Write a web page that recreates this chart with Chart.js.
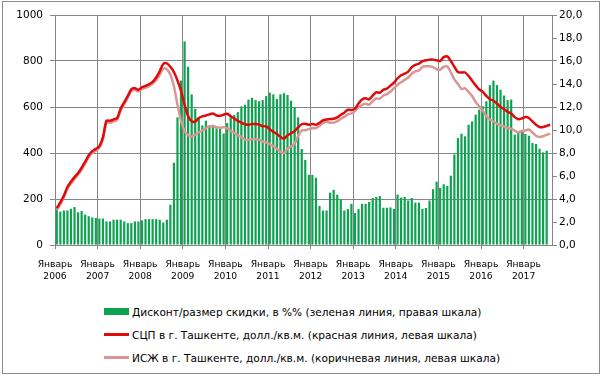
<!DOCTYPE html>
<html>
<head>
<meta charset="utf-8">
<script src="https://cdn.jsdelivr.net/npm/chart.js@4.4.1/dist/chart.umd.min.js"></script>
<style>
  body { margin: 0; background: #fff; }
  #wrap { position: relative; width: 604px; height: 378px; font-family: 'DejaVu Sans', sans-serif; }
  #frame { position: absolute; left: 2px; top: 1px; width: 596px; height: 371px; border: 1px solid #8c8c8c; }
  #chart { position: absolute; left: 0; top: 0; }
  #legend { position: absolute; left: 104px; top: 300px; font-size: 10.6px; color: #000; }
  .item { display: flex; align-items: center; height: 23px; white-space: nowrap; }
  .swatch { width: 25px; margin-right: 3px; }
</style>
</head>
<body>
<div id="wrap">
  <div id="frame"></div>
  <canvas id="chart" width="604" height="290"></canvas>
  <div id="legend"></div>
</div>
<script>
// months Jan 2006 .. Aug 2017
const years = ['2006', '2007', '2008', '2009', '2010', '2011', '2012', '2013', '2014', '2015', '2016', '2017'];
const months = ['01', '02', '03', '04', '05', '06', '07', '08', '09', '10', '11', '12'];
const lastMonth = '2017-08';
const januaryLabel = 'Январь';

const seriesNames = [
  'Дисконт/размер скидки, в %% (зеленая линия, правая шкала)',
  'СЦП в г. Ташкенте, долл./кв.м. (красная линия, левая шкала)',
  'ИСЖ в г. Ташкенте, долл./кв.м. (коричневая линия, левая шкала)'
];

// discount, % (right axis)
const discount = [
  3.3, 2.9, 3.0, 3.0, 3.15, 3.3, 2.85, 2.95, 2.65, 2.5, 2.4, 2.35,
  2.3, 2.3, 2.05, 2.05, 2.2, 2.2, 2.2, 2.05, 1.9, 1.9, 2.05, 2.05,
  2.15, 2.25, 2.25, 2.25, 2.25, 2.2, 1.95, 2.2, 3.5, 7.15, 11.1, 14.3,
  17.7, 15.5, 13.1, 11.85, 11.0, 10.4, 10.8, 10.4, 10.45, 10.15, 10.1, 9.7,
  10.6, 11.1, 11.3, 11.55, 12.05, 12.2, 12.65, 12.8, 12.6, 12.5, 12.6, 12.95,
  13.25, 13.1, 12.7, 13.1, 13.2, 13.05, 12.55, 12.0, 11.1, 8.35, 7.4, 6.1,
  6.1, 5.85, 3.4, 3.0, 3.0, 4.55, 4.8, 4.37, 3.95, 3.0, 3.12, 3.58,
  2.78, 3.12, 3.58, 3.58, 3.74, 4.08, 4.18, 4.25, 3.24, 3.24, 3.27, 3.14,
  4.38, 4.12, 4.18, 3.87, 4.08, 3.68, 3.68, 3.14, 3.22, 3.87, 4.85, 5.51,
  4.98, 5.28, 5.13, 6.03, 7.87, 9.3, 9.68, 9.45, 10.45, 10.75, 11.34, 11.77,
  12.06, 12.5, 13.9, 14.3, 13.9, 13.5, 13.0, 12.6, 12.65, 9.6, 9.74, 9.88,
  9.65, 9.5, 8.87, 8.78, 8.37, 8.05, 8.2, null
];

// СЦП, $/m2 (left axis)
const scp = [
  160, 185, 215, 252, 275, 295, 313, 336, 362, 390, 408, 418,
  430, 468, 540, 540, 546, 552, 593, 620, 648, 677, 682, 675,
  686, 692, 699, 709, 728, 755, 787, 790, 775, 752, 715, 670,
  610, 560, 538, 537, 552, 559, 563, 568, 572, 563, 562, 567,
  571, 560, 550, 540, 532, 525, 523, 526, 526, 523, 516, 516,
  503, 492, 483, 470, 462, 477, 486, 495, 512, 525, 527, 523,
  526, 523, 531, 542, 546, 548, 549, 555, 566, 575, 588, 587,
  593, 615, 633, 638, 633, 650, 664, 662, 675, 680, 693, 706,
  725, 738, 745, 754, 773, 783, 788, 799, 803, 806, 806, 803,
  800, 817, 820, 800, 775, 752, 750, 750, 735, 714, 694, 676,
  666, 648, 634, 628, 615, 601, 590, 579, 572, 556, 547, 550,
  556, 552, 537, 523, 513, 513, 518, 523
];

// ИСЖ, $/m2 (left axis)
const isj = [
  152, 177, 207, 244, 267, 287, 305, 328, 354, 382, 400, 410,
  422, 460, 532, 532, 538, 544, 585, 612, 640, 669, 674, 667,
  678, 684, 691, 701, 716, 740, 766, 764, 740, 690, 610, 540,
  495, 477, 472, 479, 489, 498, 508, 516, 516, 512, 510, 512,
  507, 497, 487, 477, 470, 458, 456, 460, 460, 458, 450, 446,
  438, 430, 418, 406, 400, 418, 428, 440, 475, 498, 499, 504,
  508, 508, 518, 531, 536, 532, 532, 538, 549, 557, 568, 572,
  582, 598, 609, 614, 610, 626, 637, 636, 650, 656, 666, 682,
  697, 708, 718, 728, 745, 755, 759, 774, 777, 777, 773, 764,
  762, 775, 776, 750, 720, 700, 679, 681, 666, 648, 622, 603,
  584, 560, 546, 537, 527, 520, 514, 509, 506, 497, 490, 496,
  498, 502, 489, 475, 470, 473, 479, 484
];

const categories = years.flatMap(y => months.map(m => y + '-' + m)).filter(c => c <= lastMonth);

const green = '#0ca24f';
const red = '#e00a0a';
const pink = '#d99694';
const gridColor = '#868686';
const axisFont = { family: 'DejaVu Sans', size: 10.5 };

Chart.defaults.color = '#000';

new Chart(document.getElementById('chart'), {
  type: 'bar',
  data: {
    labels: categories,
    datasets: [
      {
        type: 'line', label: seriesNames[1], data: scp, yAxisID: 'y', order: 1,
        borderColor: red, borderWidth: 2.5, pointRadius: 0, tension: 0.3
      },
      {
        type: 'line', label: seriesNames[2], data: isj, yAxisID: 'y', order: 2,
        borderColor: pink, borderWidth: 2.5, pointRadius: 0, tension: 0.3
      },
      {
        type: 'bar', label: seriesNames[0], data: discount, yAxisID: 'y2', order: 3,
        backgroundColor: green, barPercentage: 0.62, categoryPercentage: 1
      }
    ]
  },
  options: {
    responsive: false,
    animation: false,
    layout: { padding: { top: 15, left: 0, right: 0, bottom: 0 } },
    plugins: { legend: { display: false }, tooltip: { enabled: false } },
    scales: {
      x: {
        offset: true,
        grid: {
          offset: true,
          tickLength: 4,
          color: c => (c.index % 12 === 0 ? gridColor : 'rgba(0,0,0,0)')
        },
        border: { color: gridColor },
        ticks: {
          autoSkip: false,
          maxRotation: 0,
          labelOffset: -1.8,
          padding: 10,
          font: { family: 'DejaVu Sans', size: 9.2, lineHeight: 1.25 },
          callback: function (v) {
            const c = this.getLabelForValue(v);
            return c.endsWith('-01') ? [januaryLabel, c.slice(0, 4)] : '';
          }
        },
        afterFit: s => { s.height = 45; }
      },
      y: {
        position: 'left',
        min: 0,
        max: 1000,
        ticks: { stepSize: 200, padding: 7, font: axisFont, callback: v => String(v) },
        grid: { color: gridColor, tickLength: 5 },
        border: { color: gridColor },
        afterFit: s => { s.width = 55; }
      },
      y2: {
        position: 'right',
        min: 0,
        max: 20,
        ticks: {
          stepSize: 2, padding: 2, font: axisFont,
          callback: v => v.toFixed(1).replace('.', ',')
        },
        grid: { drawOnChartArea: false, color: gridColor, tickLength: 5 },
        border: { color: gridColor },
        afterFit: s => { s.width = 52; }
      }
    }
  }
});

// legend below the chart, one row per series
const legendItems = [
  { name: seriesNames[0], color: green, kind: 'box' },
  { name: seriesNames[1], color: red, kind: 'line' },
  { name: seriesNames[2], color: pink, kind: 'line' }
];
const legend = document.getElementById('legend');
legendItems.forEach(it => {
  const row = document.createElement('div');
  row.className = 'item';
  const sw = document.createElement('span');
  sw.className = 'swatch';
  sw.style.background = it.color;
  sw.style.height = it.kind === 'box' ? '7px' : '2.5px';
  row.appendChild(sw);
  const txt = document.createElement('span');
  txt.textContent = it.name;
  row.appendChild(txt);
  legend.appendChild(row);
});
</script>
</body>
</html>
